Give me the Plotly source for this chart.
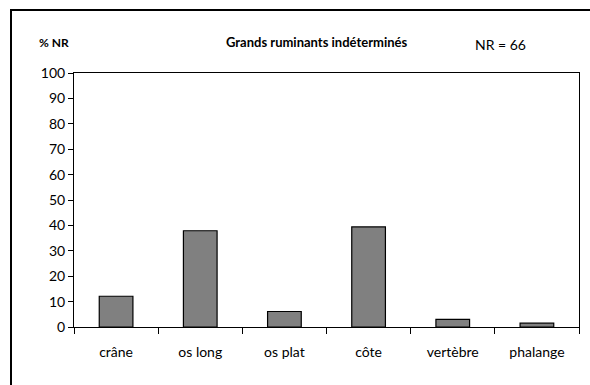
import plotly.graph_objects as go

# Skeletal parts and share of remains (% NR, NR = 66)
categories = ["crâne", "os long", "os plat", "côte", "vertèbre", "phalange"]
percent_nr = [12.1, 37.9, 6.1, 39.4, 3.0, 1.5]
y_ticks = [0, 10, 20, 30, 40, 50, 60, 70, 80, 90, 100]

W, H = 590, 385
L, R, T, B = 74, 11, 73, 58
FONT = "Lato, 'Open Sans', sans-serif"

fig = go.Figure(
    go.Bar(
        x=categories,
        y=percent_nr,
        marker=dict(color="#808080", line=dict(color="black", width=1.2)),
        width=0.4,
    )
)

pw = W - L - R
ph = H - T - B


def px_x(v):
    return (v - L) / pw


def px_y(v):
    return (H - B - v) / ph


fig.update_layout(
    width=W,
    height=H,
    margin=dict(l=L, r=R, t=T, b=B),
    paper_bgcolor="white",
    plot_bgcolor="white",
    showlegend=False,
    font=dict(family=FONT, color="black", size=14),
    xaxis=dict(
        showline=True,
        linecolor="black",
        linewidth=1,
        mirror=True,
        ticks="outside",
        ticklen=6,
        tickcolor="black",
        tickson="boundaries",
        tickfont=dict(size=14),
        ticklabelstandoff=12,
        showgrid=False,
    ),
    yaxis=dict(
        range=[0, 100],
        tickvals=y_ticks,
        showline=True,
        linecolor="black",
        linewidth=1,
        mirror=True,
        ticks="outside",
        ticklen=5,
        tickcolor="black",
        tickfont=dict(size=14),
        showgrid=False,
        zeroline=False,
    ),
    annotations=[
        dict(text="<b>% NR</b>", x=px_x(37), y=px_y(42), xref="paper", yref="paper",
             xanchor="left", yanchor="middle", showarrow=False, font=dict(size=12)),
        dict(text="<b>Grands ruminants indéterminés</b>", x=px_x(316), y=px_y(42),
             xref="paper", yref="paper", xanchor="center", yanchor="middle",
             showarrow=False, font=dict(size=13)),
        dict(text="NR = 66", x=px_x(473), y=px_y(45), xref="paper", yref="paper",
             xanchor="left", yanchor="middle", showarrow=False, font=dict(size=14)),
    ],
    shapes=[
        dict(type="rect", xref="paper", yref="paper",
             x0=px_x(11), x1=px_x(600), y0=px_y(400), y1=px_y(10),
             line=dict(color="black", width=2), fillcolor="rgba(0,0,0,0)", layer="above"),
    ],
)

fig.write_html("out.html")
